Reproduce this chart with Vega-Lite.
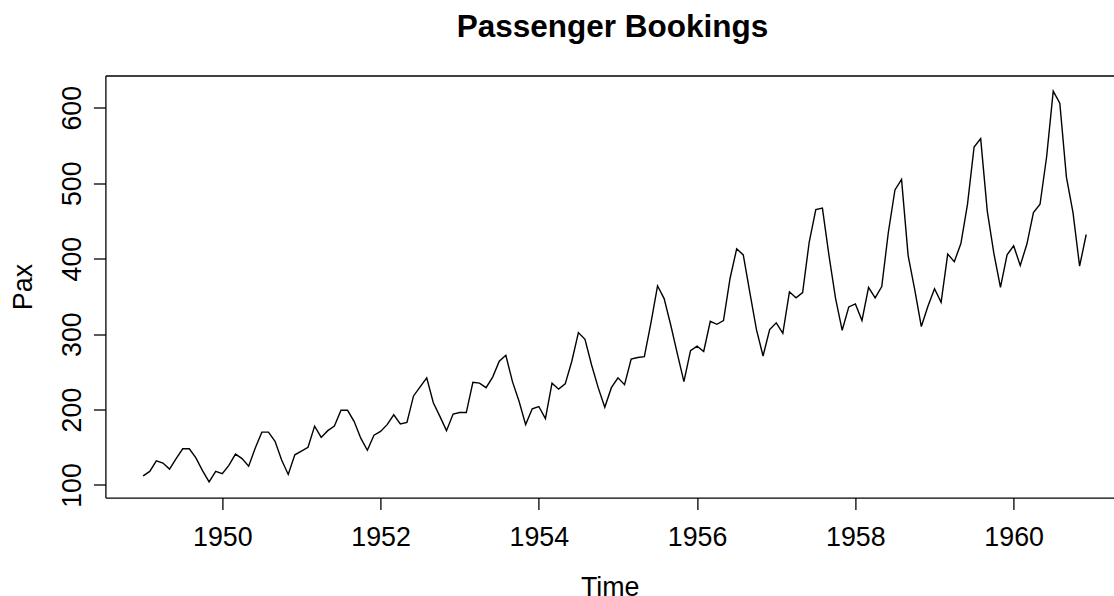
{
  "$schema": "https://vega.github.io/schema/vega-lite/v6.json",
  "autosize": {"type": "none"},
  "padding": {"left": 105.4, "top": 75.5, "right": 0, "bottom": 98.4},
  "width": 1008.6,
  "height": 422.1,
  "background": "white",
  "title": {
    "text": "Passenger Bookings",
    "font": "Liberation Sans",
    "fontSize": 31.5,
    "fontWeight": "bold",
    "color": "black",
    "anchor": "start",
    "baseline": "alphabetic",
    "offset": 7.5,
    "dx": 446
  },
  "config": {
    "view": {"stroke": null},
    "axis": {
      "labelFont": "Liberation Sans",
      "titleFont": "Liberation Sans",
      "labelFontSize": 26.8,
      "titleFontSize": 26.8,
      "labelColor": "black",
      "titleColor": "black",
      "titleFontWeight": "normal",
      "tickColor": "black",
      "domainColor": "black",
      "tickWidth": 1.3,
      "domainWidth": 1.3,
      "tickSize": 12,
      "grid": false,
      "labelOverlap": false,
      "labelFlush": false
    }
  },
  "data": {
    "values": [
      {"t": 1949.0, "pax": 112}, {"t": 1949.0833, "pax": 118}, {"t": 1949.1667, "pax": 132}, {"t": 1949.25, "pax": 129}, {"t": 1949.3333, "pax": 121}, {"t": 1949.4167, "pax": 135}, {"t": 1949.5, "pax": 148}, {"t": 1949.5833, "pax": 148}, {"t": 1949.6667, "pax": 136}, {"t": 1949.75, "pax": 119}, {"t": 1949.8333, "pax": 104}, {"t": 1949.9167, "pax": 118},
      {"t": 1950.0, "pax": 115}, {"t": 1950.0833, "pax": 126}, {"t": 1950.1667, "pax": 141}, {"t": 1950.25, "pax": 135}, {"t": 1950.3333, "pax": 125}, {"t": 1950.4167, "pax": 149}, {"t": 1950.5, "pax": 170}, {"t": 1950.5833, "pax": 170}, {"t": 1950.6667, "pax": 158}, {"t": 1950.75, "pax": 133}, {"t": 1950.8333, "pax": 114}, {"t": 1950.9167, "pax": 140},
      {"t": 1951.0, "pax": 145}, {"t": 1951.0833, "pax": 150}, {"t": 1951.1667, "pax": 178}, {"t": 1951.25, "pax": 163}, {"t": 1951.3333, "pax": 172}, {"t": 1951.4167, "pax": 178}, {"t": 1951.5, "pax": 199}, {"t": 1951.5833, "pax": 199}, {"t": 1951.6667, "pax": 184}, {"t": 1951.75, "pax": 162}, {"t": 1951.8333, "pax": 146}, {"t": 1951.9167, "pax": 166},
      {"t": 1952.0, "pax": 171}, {"t": 1952.0833, "pax": 180}, {"t": 1952.1667, "pax": 193}, {"t": 1952.25, "pax": 181}, {"t": 1952.3333, "pax": 183}, {"t": 1952.4167, "pax": 218}, {"t": 1952.5, "pax": 230}, {"t": 1952.5833, "pax": 242}, {"t": 1952.6667, "pax": 209}, {"t": 1952.75, "pax": 191}, {"t": 1952.8333, "pax": 172}, {"t": 1952.9167, "pax": 194},
      {"t": 1953.0, "pax": 196}, {"t": 1953.0833, "pax": 196}, {"t": 1953.1667, "pax": 236}, {"t": 1953.25, "pax": 235}, {"t": 1953.3333, "pax": 229}, {"t": 1953.4167, "pax": 243}, {"t": 1953.5, "pax": 264}, {"t": 1953.5833, "pax": 272}, {"t": 1953.6667, "pax": 237}, {"t": 1953.75, "pax": 211}, {"t": 1953.8333, "pax": 180}, {"t": 1953.9167, "pax": 201},
      {"t": 1954.0, "pax": 204}, {"t": 1954.0833, "pax": 188}, {"t": 1954.1667, "pax": 235}, {"t": 1954.25, "pax": 227}, {"t": 1954.3333, "pax": 234}, {"t": 1954.4167, "pax": 264}, {"t": 1954.5, "pax": 302}, {"t": 1954.5833, "pax": 293}, {"t": 1954.6667, "pax": 259}, {"t": 1954.75, "pax": 229}, {"t": 1954.8333, "pax": 203}, {"t": 1954.9167, "pax": 229},
      {"t": 1955.0, "pax": 242}, {"t": 1955.0833, "pax": 233}, {"t": 1955.1667, "pax": 267}, {"t": 1955.25, "pax": 269}, {"t": 1955.3333, "pax": 270}, {"t": 1955.4167, "pax": 315}, {"t": 1955.5, "pax": 364}, {"t": 1955.5833, "pax": 347}, {"t": 1955.6667, "pax": 312}, {"t": 1955.75, "pax": 274}, {"t": 1955.8333, "pax": 237}, {"t": 1955.9167, "pax": 278},
      {"t": 1956.0, "pax": 284}, {"t": 1956.0833, "pax": 277}, {"t": 1956.1667, "pax": 317}, {"t": 1956.25, "pax": 313}, {"t": 1956.3333, "pax": 318}, {"t": 1956.4167, "pax": 374}, {"t": 1956.5, "pax": 413}, {"t": 1956.5833, "pax": 405}, {"t": 1956.6667, "pax": 355}, {"t": 1956.75, "pax": 306}, {"t": 1956.8333, "pax": 271}, {"t": 1956.9167, "pax": 306},
      {"t": 1957.0, "pax": 315}, {"t": 1957.0833, "pax": 301}, {"t": 1957.1667, "pax": 356}, {"t": 1957.25, "pax": 348}, {"t": 1957.3333, "pax": 355}, {"t": 1957.4167, "pax": 422}, {"t": 1957.5, "pax": 465}, {"t": 1957.5833, "pax": 467}, {"t": 1957.6667, "pax": 404}, {"t": 1957.75, "pax": 347}, {"t": 1957.8333, "pax": 305}, {"t": 1957.9167, "pax": 336},
      {"t": 1958.0, "pax": 340}, {"t": 1958.0833, "pax": 318}, {"t": 1958.1667, "pax": 362}, {"t": 1958.25, "pax": 348}, {"t": 1958.3333, "pax": 363}, {"t": 1958.4167, "pax": 435}, {"t": 1958.5, "pax": 491}, {"t": 1958.5833, "pax": 505}, {"t": 1958.6667, "pax": 404}, {"t": 1958.75, "pax": 359}, {"t": 1958.8333, "pax": 310}, {"t": 1958.9167, "pax": 337},
      {"t": 1959.0, "pax": 360}, {"t": 1959.0833, "pax": 342}, {"t": 1959.1667, "pax": 406}, {"t": 1959.25, "pax": 396}, {"t": 1959.3333, "pax": 420}, {"t": 1959.4167, "pax": 472}, {"t": 1959.5, "pax": 548}, {"t": 1959.5833, "pax": 559}, {"t": 1959.6667, "pax": 463}, {"t": 1959.75, "pax": 407}, {"t": 1959.8333, "pax": 362}, {"t": 1959.9167, "pax": 405},
      {"t": 1960.0, "pax": 417}, {"t": 1960.0833, "pax": 391}, {"t": 1960.1667, "pax": 419}, {"t": 1960.25, "pax": 461}, {"t": 1960.3333, "pax": 472}, {"t": 1960.4167, "pax": 535}, {"t": 1960.5, "pax": 622}, {"t": 1960.5833, "pax": 606}, {"t": 1960.6667, "pax": 508}, {"t": 1960.75, "pax": 461}, {"t": 1960.8333, "pax": 390}, {"t": 1960.9167, "pax": 432}
    ]
  },
  "layer": [
    {
      "mark": {"type": "line", "color": "black", "strokeWidth": 1.4, "interpolate": "linear"},
      "encoding": {
        "x": {
          "field": "t", "type": "quantitative",
          "scale": {"domain": [1948.523, 1961.268], "nice": false, "zero": false},
          "axis": {
            "orient": "bottom",
            "title": "Time",
            "values": [1950, 1952, 1954, 1956, 1958, 1960],
            "format": "d",
            "labelBaseline": "alphabetic",
            "labelPadding": 36,
            "titleBaseline": "alphabetic",
            "titleY": 97.5,
            "titleAnchor": "middle"
          }
        },
        "y": {
          "field": "pax", "type": "quantitative",
          "scale": {"domain": [83.28, 642.72], "nice": false, "zero": false},
          "axis": {
            "title": "Pax",
            "values": [100, 200, 300, 400, 500, 600],
            "format": "d",
            "labelAngle": 270,
            "labelAlign": "center",
            "labelBaseline": "alphabetic",
            "labelPadding": 13.4,
            "titleAngle": 270,
            "titleBaseline": "alphabetic",
            "titleX": -73.7,
            "titleAnchor": "middle"
          }
        }
      }
    },
    {
      "mark": {"type": "line", "color": "black", "strokeOpacity": 0},
      "encoding": {
        "x": {
          "field": "t", "type": "quantitative",
          "axis": {"orient": "top", "title": null, "labels": false, "ticks": false, "domain": true}
        },
        "y": {"field": "pax", "type": "quantitative"}
      }
    }
  ],
  "resolve": {"axis": {"x": "independent"}}
}
